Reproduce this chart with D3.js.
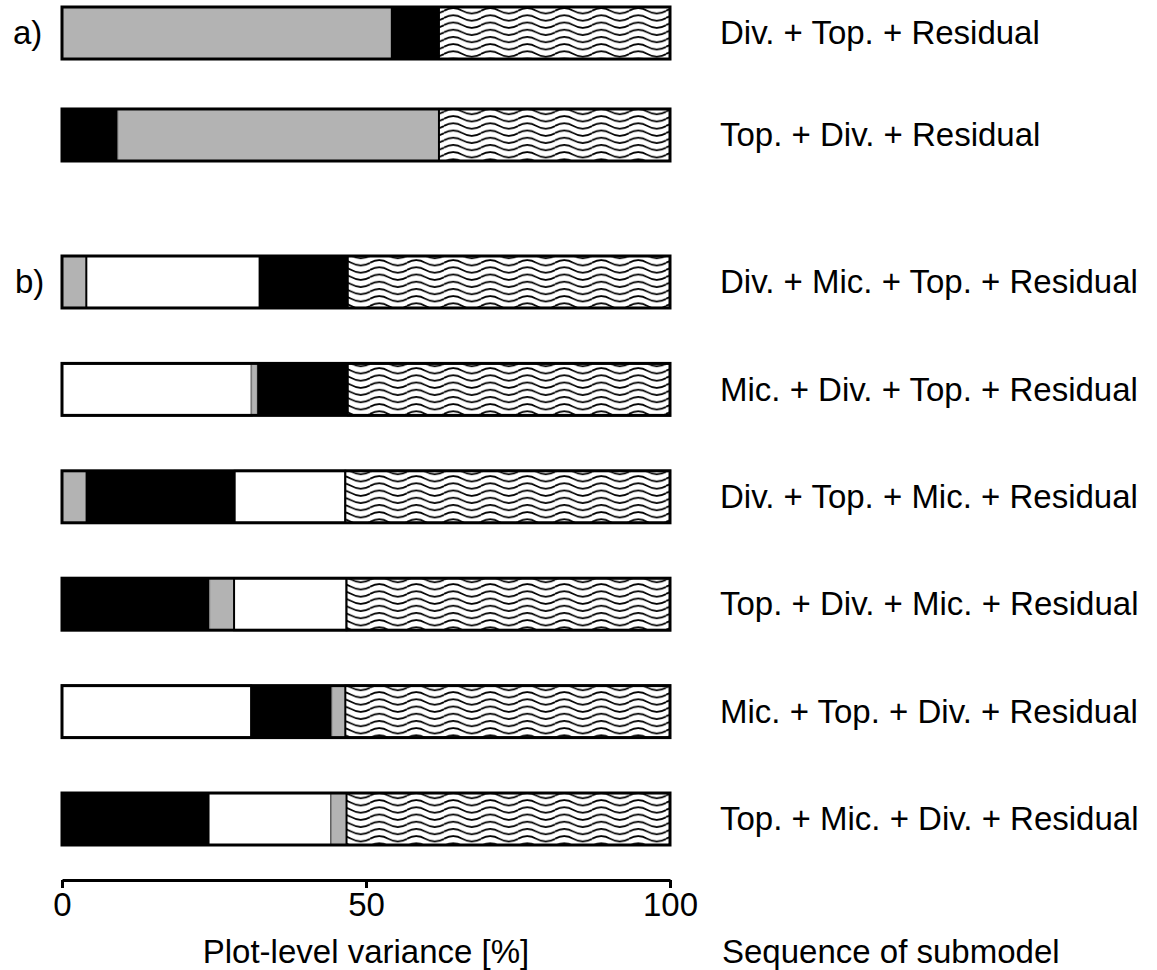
<!DOCTYPE html>
<meta charset="utf-8">
<style>
body { margin: 0; background: #fff; }
text { font-family: "Liberation Sans", Arial, sans-serif; fill: #000; }
.axis path, .axis line { stroke: #000; stroke-width: 3px; }
.axis text { font-size: 33px; }
</style>
<script src="https://cdn.jsdelivr.net/npm/d3@7"></script>
<svg width="1157" height="970"></svg>
<script>

// panel a) rows, then panel b) rows
var panelA = ["Div. + Top. + Residual", "Top. + Div. + Residual"];
var panelB = ["Div. + Mic. + Top. + Residual", "Mic. + Div. + Top. + Residual",
              "Div. + Top. + Mic. + Residual", "Top. + Div. + Mic. + Residual",
              "Mic. + Top. + Div. + Residual", "Top. + Mic. + Div. + Residual"];

// variance explained by each part [%], same row order as above (a rows first)
var divShare      = [54.1, 52.8, 4.0,  0.9, 3.9,  4.0,  2.2,  2.5];
var topShare      = [7.9,  9.2,  14.5, 14.9, 24.5, 24.3, 13.3, 24.1];
var micShare      = [0,    0,    28.5, 31.2, 18.2, 18.5, 31.1, 20.2];
var residualShare = [38.0, 38.0, 53.0, 53.0, 53.4, 53.2, 53.4, 53.2];

var xTicks = [0, 50, 100];

var svg = d3.select("svg");

var x = d3.scaleLinear().domain([0, 100]).range([62, 670]);

var yA = d3.scaleBand().domain(panelA).range([7, 161]).paddingInner(0.49);
var yB = d3.scaleBand().domain(panelB).range([256, 845]).paddingInner(0.516);

var parts = {
  "Div.": { values: divShare, fill: "#b3b3b3", stroke: "#8a8a8a", sw: 1 },
  "Top.": { values: topShare, fill: "#000", stroke: "none", sw: 0 },
  "Mic.": { values: micShare, fill: "#fff", stroke: "#000", sw: 2 },
  "Residual": { values: residualShare, fill: "url(#waves)", stroke: "#000", sw: 2 }
};

// wavy hatching for the residual
var pat = svg.append("defs").append("pattern")
    .attr("id", "waves")
    .attr("patternUnits", "userSpaceOnUse")
    .attr("width", 37)
    .attr("height", 7.2);
pat.append("rect").attr("width", 37).attr("height", 7.2).attr("fill", "#fff");
pat.append("path")
    .attr("d", "M0,3.6 Q9.25,-1.6 18.5,3.6 T37,3.6")
    .attr("fill", "none")
    .attr("stroke", "#000")
    .attr("stroke-width", 1.8);

var rows = panelA.map(function(d) { return { label: d, y: yA(d), h: yA.bandwidth() }; })
  .concat(panelB.map(function(d) { return { label: d, y: yB(d), h: yB.bandwidth() }; }));

rows.forEach(function(r, i) {
  var names = r.label.split(" + ");
  var vals = names.map(function(n) { return parts[n].values[i]; });
  var ends = d3.cumsum(vals);
  var segs = names.map(function(n, j) {
    return { name: n, x0: j ? ends[j - 1] : 0, x1: ends[j] };
  });

  var g = svg.append("g");

  g.selectAll("rect.seg")
    .data(segs)
    .enter().append("rect")
      .attr("class", "seg")
      .attr("x", function(d) { return x(d.x0); })
      .attr("y", r.y)
      .attr("width", function(d) { return x(d.x1) - x(d.x0); })
      .attr("height", r.h)
      .attr("fill", function(d) { return parts[d.name].fill; })
      .attr("stroke", function(d) { return parts[d.name].stroke; })
      .attr("stroke-width", function(d) { return parts[d.name].sw; });

  g.append("rect")
      .attr("x", x(0))
      .attr("y", r.y)
      .attr("width", x(100) - x(0))
      .attr("height", r.h)
      .attr("fill", "none")
      .attr("stroke", "#000")
      .attr("stroke-width", 3);

  g.append("text")
      .attr("x", 720)
      .attr("y", r.y + r.h / 2)
      .attr("dy", "0.34em")
      .style("font-size", "33px")
      .text(r.label);
});

svg.append("text")
    .attr("x", 13)
    .attr("y", yA(panelA[0]) + yA.bandwidth() / 2)
    .attr("dy", "0.34em")
    .style("font-size", "33px")
    .text("a)");

svg.append("text")
    .attr("x", 15)
    .attr("y", yB(panelB[0]) + yB.bandwidth() / 2)
    .attr("dy", "0.34em")
    .style("font-size", "33px")
    .text("b)");

svg.append("g")
    .attr("class", "axis")
    .attr("transform", "translate(0,880)")
    .call(d3.axisBottom(x).tickValues(xTicks).tickSize(8).tickSizeOuter(0).tickPadding(5))
    .call(function(g) { g.selectAll("text").attr("fill", "#000"); });

svg.append("text")
    .attr("x", (x(0) + x(100)) / 2)
    .attr("y", 963)
    .attr("text-anchor", "middle")
    .style("font-size", "33px")
    .text("Plot-level variance [%]");

svg.append("text")
    .attr("x", 722)
    .attr("y", 963)
    .style("font-size", "33px")
    .text("Sequence of submodel");

</script>
